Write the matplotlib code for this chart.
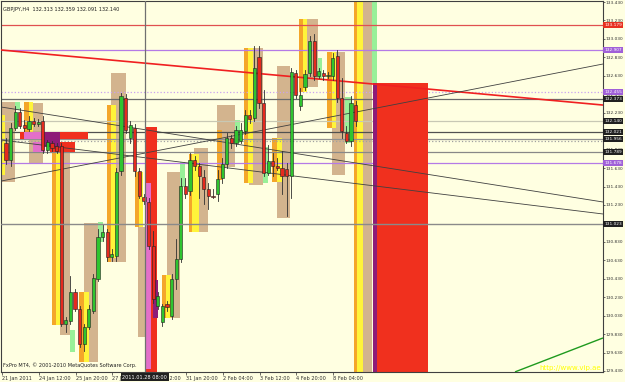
import matplotlib
matplotlib.use("Agg")
import matplotlib.pyplot as plt
from matplotlib.patches import Rectangle
from matplotlib.transforms import blended_transform_factory

# ---------------------------------------------------------------------------
# DATA  (GBPJPY H4, bar index 0 = first visible bar)
# ---------------------------------------------------------------------------
opens = [131.897, 131.713, 132.060, 132.234, 132.093, 132.050, 132.137, 132.104, 132.137, 131.821,
         131.897, 131.865, 131.865, 129.941, 129.974, 130.289, 130.104, 129.724, 129.908, 130.082,
         130.430, 130.887, 130.941, 130.669, 130.680, 131.593, 132.387, 131.952, 132.060, 131.593,
         131.321, 131.267, 130.789, 130.137, 129.963, 130.158, 130.028, 130.430, 130.647, 131.430,
         131.376, 131.713, 131.647, 131.528, 131.408, 131.332, 131.354, 131.517, 131.669, 131.952,
         131.897, 131.919, 132.028, 132.202, 132.169, 132.832, 132.332, 131.571, 131.702, 131.647,
         131.626, 131.615, 131.539, 132.658, 132.300, 132.506, 132.658, 133.006, 132.626, 132.658,
         132.626, 132.626, 132.843, 132.387, 132.006, 131.919, 132.313]
highs = [131.952, 132.115, 132.300, 132.278, 132.147, 132.191, 132.169, 132.158, 132.191, 131.930,
         131.919, 131.897, 131.897, 130.017, 130.463, 130.321, 130.137, 129.941, 130.147, 130.484,
         130.974, 131.028, 130.974, 130.756, 131.626, 132.441, 132.430, 132.137, 132.104, 131.626,
         131.354, 131.300, 130.952, 130.289, 130.158, 130.191, 130.484, 130.865, 131.517, 131.517,
         131.789, 131.756, 131.680, 131.604, 131.463, 131.408, 131.604, 131.734, 132.006, 131.984,
         132.082, 132.115, 132.256, 132.256, 132.952, 132.952, 132.474, 131.876, 131.789, 131.734,
         131.810, 131.680, 132.713, 132.691, 132.495, 132.691, 133.060, 133.082, 132.713, 132.691,
         132.669, 132.876, 132.908, 132.604, 132.082, 132.408, 132.359]
lows = [131.669, 131.647, 132.039, 132.060, 132.028, 132.028, 132.082, 132.082, 131.789, 131.789,
        131.810, 131.789, 129.919, 129.854, 129.941, 130.082, 129.691, 129.647, 129.887, 130.060,
        130.408, 130.843, 130.626, 130.626, 130.626, 131.560, 132.006, 131.897, 131.539, 131.300,
        131.245, 130.756, 130.169, 130.104, 129.919, 130.082, 129.995, 130.321, 130.615, 131.300,
        131.343, 131.604, 131.300, 131.245, 131.191, 131.300, 131.278, 131.463, 131.626, 131.843,
        131.865, 131.897, 131.995, 132.115, 132.137, 132.278, 131.539, 131.550, 131.539, 131.604,
        131.354, 131.115, 131.300, 132.387, 132.256, 132.474, 132.626, 132.582, 132.604, 132.582,
        132.604, 132.582, 132.343, 131.952, 131.897, 131.865, 132.091]
closes = [131.713, 132.060, 132.234, 132.082, 132.060, 132.137, 132.104, 132.126, 131.821, 131.908,
          131.843, 131.810, 129.941, 129.984, 130.289, 130.104, 129.724, 129.908, 130.104, 130.441,
          130.887, 130.941, 130.669, 130.702, 131.582, 132.408, 132.039, 132.093, 131.593, 131.332,
          131.278, 130.789, 130.213, 130.245, 130.137, 130.126, 130.430, 130.647, 131.430, 131.354,
          131.713, 131.647, 131.539, 131.408, 131.332, 131.321, 131.506, 131.669, 131.952, 131.897,
          132.039, 132.039, 132.202, 132.158, 132.713, 132.332, 131.571, 131.702, 131.647, 131.626,
          131.539, 131.539, 132.669, 132.419, 132.419, 132.647, 133.006, 132.626, 132.680, 132.626,
          132.637, 132.821, 132.387, 132.028, 131.919, 132.332, 132.140]

# indicator zones: (bar_from, bar_to, price_top, price_bottom)
tan_zones = [(-1.3, 1.96, 132.346, 131.479), (5.0, 8.04, 132.335, 131.685),
             (11.74, 13.9, 131.826, 129.820), (16.96, 20.0, 131.034, 129.528),
             (22.83, 26.1, 132.660, 130.612), (28.7, 30.2, 130.991, 129.798),
             (35.0, 37.83, 131.587, 130.004), (40.87, 43.9, 131.847, 130.937),
             (45.87, 49.78, 132.313, 131.641), (52.83, 55.87, 132.931, 131.446),
             (58.91, 61.74, 132.736, 131.089), (64.57, 67.83, 133.246, 132.509),
             (70.87, 73.7, 132.888, 131.555), (77.6, 79.57, 133.5, 129.3)]
orange_zones = [(3.9, 4.9, 132.346, 132.021), (10.0, 10.9, 131.826, 129.929),
                (15.87, 17.0, 130.286, 129.528), (21.96, 22.83, 132.313, 130.612),
                (28.04, 28.9, 131.587, 130.991), (33.9, 34.78, 130.471, 130.004),
                (39.78, 40.43, 131.782, 130.937), (45.87, 46.96, 132.042, 131.500),
                (51.74, 52.6, 132.931, 131.468), (57.83, 58.9, 131.956, 131.479),
                (63.7, 64.57, 133.246, 132.454), (69.78, 70.87, 132.888, 132.064),
                (75.65, 76.3, 133.5, 129.3)]
yellow_zones = [(-0.9, -0.2, 132.205, 131.555), (4.9, 5.9, 132.346, 132.021),
                (10.9, 11.74, 131.826, 129.929), (17.0, 18.04, 130.286, 129.528),
                (22.83, 23.9, 132.313, 130.655), (28.9, 29.78, 131.587, 130.991),
                (34.78, 35.87, 130.471, 130.004), (40.43, 41.96, 131.782, 130.937),
                (52.6, 53.7, 132.931, 131.468), (58.9, 60.0, 131.956, 131.479),
                (64.57, 65.43, 133.246, 132.454), (70.87, 71.74, 132.888, 132.064),
                (76.3, 77.6, 133.5, 129.3)]
green_zones = [(1.96, 3.04, 132.346, 132.259), (13.9, 15.0, 129.874, 129.636),
               (20.0, 21.0, 131.045, 130.828), (37.83, 38.9, 131.696, 131.425),
               (49.78, 50.87, 132.151, 131.902), (55.87, 56.96, 131.858, 131.468),
               (67.83, 68.7, 132.823, 132.584), (73.7, 75.2, 132.400, 131.902),
               (79.57, 80.65, 133.5, 132.552)]
red_zones = [(30.2, 32.83, 132.075, 129.3), (80.65, 91.74, 132.552, 129.3),
             (3.04, 17.83, 132.021, 131.945), (9.57, 15.0, 131.912, 131.804)]
pink_zones = [(30.2, 31.5, 131.468, 129.45), (3.9, 8.04, 132.021, 131.945),
              (5.87, 8.5, 131.912, 131.804)]
magenta_zones = [(32.0, 33.0, 130.415, 130.004), (79.78, 80.65, 132.552, 129.3),
                 (8.04, 11.74, 132.021, 131.858)]

# horizontal levels: (price, colour, style, label, label bg)
levels = [(133.181, "#E05050", "-", "133.179", "#E83020"),
          (132.907, "#B47AE6", "-", "132.907", "#A060D8"),
          (132.455, "#C9A2F0", ":", "132.455", "#A060D8"),
          (132.378, "#6A6A6A", "-", "132.373", "#202020"),
          (132.140, "#C8C8B4", "-", "132.140", "#202020"),
          (132.021, "#505050", "-", "132.021", "#202020"),
          (131.945, "#909090", "-", "131.956", "#202020"),
          (131.923, "#A0A0A0", ":", None, None),
          (131.804, "#888888", "-", "131.789", "#202020"),
          (131.685, "#B47AE6", "-", "131.678", "#A060D8")]

# trend lines: (bar0, price0, bar1, price1, colour, width)
trend_lines = [(-1.09, 132.910, 129.78, 132.313, "#F02020", 1.2),
               (-1.09, 131.489, 129.78, 132.758, "#404040", 0.6),
               (-1.09, 132.292, 129.78, 131.262, "#404040", 0.6),
               (-1.09, 131.934, 129.78, 131.132, "#404040", 0.6),
               (110.65, 129.420, 129.78, 129.788, "#1E9A1E", 1.0)]

cross_bar, cross_price = 30.2, 131.023
tick_prices = [133.430, 133.230, 133.030, 132.830, 132.630, 132.430, 132.230, 132.030, 131.830,
               131.630, 131.430, 131.230, 131.030, 130.830, 130.630, 130.430, 130.230, 130.030,
               129.830, 129.630, 129.430]
# tick labels hidden behind the highlighted price boxes in the terminal
hidden_ticks = [132.030, 131.030]
time_ticks = [-0.87, 7.13, 15.13, 23.13, 31.13, 39.13, 47.13, 55.13, 63.13, 71.13]
time_labels = ["21 Jan 2011", "24 Jan 12:00", "25 Jan 20:00", "27 Jan 04:00", "28 Jan 12:00",
               "31 Jan 20:00", "2 Feb 04:00", "3 Feb 12:00", "4 Feb 20:00", "8 Feb 04:00"]

BG = "#FFFFE1"
FS = 3.6
FS_R = 3.1

fig = plt.figure(figsize=(6.25, 3.82), dpi=100, facecolor=BG)
ax = fig.add_axes([1 / 625, 10 / 382, 602 / 625, 371 / 382], facecolor=BG)
ax.set_xlim(-1.087, 129.78)
ax.set_ylim(129.419, 133.441)


def add_zones(zones, color, z):
    for b0, b1, top, bot in zones:
        ax.add_patch(Rectangle((b0, bot), b1 - b0, top - bot, fc=color, ec="none", zorder=z))


add_zones(tan_zones, "#D3B48E", 1)
add_zones(orange_zones, "#F4A62A", 1.1)
add_zones(yellow_zones, "#FFF43A", 1.2)
add_zones(green_zones, "#98F098", 1.2)

for price, col, ls, lab, lbg in levels:
    ax.axhline(price, color=col, ls=ls, lw=0.9, zorder=1.5)

add_zones(red_zones, "#F0301E", 2)
add_zones(pink_zones, "#E36FC9", 2.1)
add_zones(magenta_zones, "#8E1C78", 2.2)

for b0, p0, b1, p1, col, lw in trend_lines:
    ax.plot([b0, b1], [p0, p1], color=col, lw=lw, zorder=3, solid_capstyle="butt")

# candles
for i in range(len(opens)):
    o, h, l, c = opens[i], highs[i], lows[i], closes[i]
    ax.plot([i, i], [l, h], color="#303030", lw=0.6, zorder=4)
    body_col = "#2FC42F" if c >= o else "#E52A1E"
    ax.add_patch(Rectangle((i - 0.33, min(o, c)), 0.66, max(abs(c - o), 0.006),
                           fc=body_col, ec="#202020", lw=0.4, zorder=5))

# crosshair
ax.axvline(cross_bar, color="#707070", lw=0.9, zorder=6)
ax.axhline(cross_price, color="#8A8A8A", lw=1.0, zorder=6)

# axes styling
for s in ax.spines.values():
    s.set_color("#404040")
    s.set_linewidth(0.8)
ax.yaxis.tick_right()
ax.set_yticks(tick_prices)
ax.set_yticklabels(["" if p in hidden_ticks else "%.3f" % p for p in tick_prices])
ax.tick_params(axis="y", length=1.5, width=0.5, pad=0.6, labelsize=FS_R, colors="#303030")
ax.set_xticks(time_ticks)
ax.set_xticklabels(time_labels, ha="left")
ax.tick_params(axis="x", length=2, width=0.5, pad=1, labelsize=FS, colors="#303030")

# price labels on the right
ty = blended_transform_factory(ax.transAxes, ax.transData)
for price, col, ls, lab, lbg in levels:
    if lab:
        ax.text(1.002, price, lab, transform=ty, va="center", ha="left", fontsize=FS_R,
                color="white", zorder=10, clip_on=False,
                bbox=dict(boxstyle="square,pad=0.2", fc=lbg, ec="none"))
ax.text(1.002, cross_price, "%.3f" % cross_price, transform=ty, va="center", ha="left",
        fontsize=FS_R, color="white", clip_on=False, zorder=10,
        bbox=dict(boxstyle="square,pad=0.2", fc="#202020", ec="none"))

tx = blended_transform_factory(ax.transData, ax.transAxes)
ax.text(cross_bar, -0.008, "2011.01.28 08:00", transform=tx, va="top", ha="center",
        fontsize=FS, color="white", clip_on=False, zorder=10,
        bbox=dict(boxstyle="square,pad=0.3", fc="#202020", ec="none"))

ax.text(0.004, 0.985, "GBPJPY,H4  132.313 132.359 132.091 132.140", transform=ax.transAxes,
        va="top", ha="left", fontsize=FS, color="#202020", zorder=10)
ax.text(0.004, 0.012, "FxPro MT4, \u00a9 2001-2010 MetaQuotes Software Corp.",
        transform=ax.transAxes, va="bottom", ha="left", fontsize=FS, color="#202020", zorder=10)
ax.text(0.997, 0.004, "http://www.vip.ae", transform=ax.transAxes, va="bottom", ha="right",
        fontsize=5, color="#FFFF00", zorder=10)

fig.savefig("out.png", dpi=100, facecolor=BG)
